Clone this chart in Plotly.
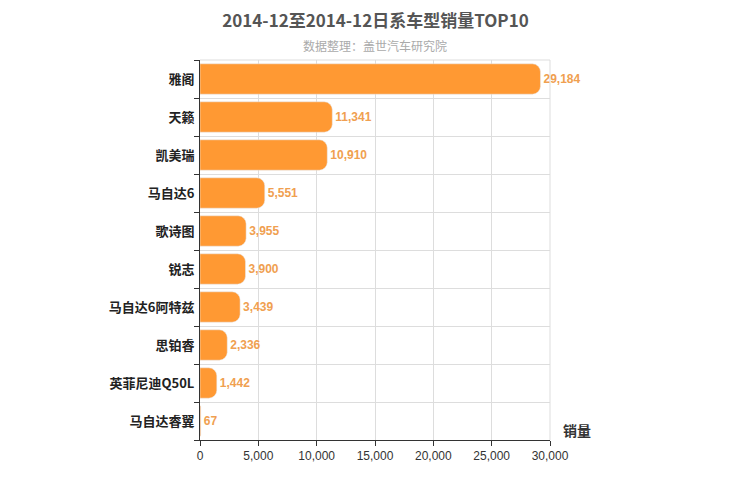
import plotly.graph_objects as go

categories = ["雅阁", "天籁", "凯美瑞", "马自达6", "歌诗图", "锐志", "马自达6阿特兹", "思铂睿", "英菲尼迪Q50L", "马自达睿翼"]
values = [29184, 11341, 10910, 5551, 3955, 3900, 3439, 2336, 1442, 67]
x_ticks = [0, 5000, 10000, 15000, 20000, 25000, 30000]

fig = go.Figure(go.Bar(
    y=categories, x=values, orientation="h",
    marker=dict(color="#FF9933", cornerradius=8),
    width=0.8,
    text=[f"<b>{v:,}</b>" for v in values], textposition="outside",
    textfont=dict(color="#F0A050", size=12, family="Arial"),
    cliponaxis=False,
))
fig.update_layout(
    width=750, height=500,
    margin=dict(l=192, r=208, t=52, b=68),
    plot_bgcolor="white", paper_bgcolor="white",
    font=dict(family="Noto Sans CJK SC, Arial", color="#333"),
    title=dict(text="<b>2014-12至2014-12日系车型销量TOP10</b>", x=0.49, xanchor="center", y=0.985,
               font=dict(size=17, color="#555")),
    annotations=[
        dict(text="数据整理：盖世汽车研究院", xref="paper", yref="paper", x=0.5, y=1.065,
             showarrow=False, font=dict(size=12, color="#aaa")),
        dict(text="<b>销量</b>", xref="paper", yref="paper", x=1.03, y=-0.005, xanchor="left",
             yanchor="bottom", showarrow=False, font=dict(size=14, color="#333")),
    ],
    showlegend=False,
)
fig.update_xaxes(range=[0, 30000], tickvals=x_ticks, tickformat=",", showgrid=True, gridcolor="#ddd",
                 showline=True, linecolor="#333", ticks="outside", ticklen=5, tickcolor="#333",
                 tickfont=dict(size=12, family="Arial"), zeroline=False)
fig.update_yaxes(autorange="reversed", tickson="boundaries", showgrid=True, gridcolor="#ddd",
                 showline=True, linecolor="#333", ticks="outside", ticklen=5, tickcolor="#333",
                 tickfont=dict(size=13, color="#222"), ticklabelstandoff=2,
                 tickvals=categories, ticktext=[f"<b>{c}</b>" for c in categories])
fig.add_shape(type="line", xref="paper", yref="paper", x0=0, x1=1, y0=1, y1=1, line=dict(color="#ddd", width=1))
fig.add_shape(type="line", xref="paper", yref="paper", x0=1, x1=1, y0=0, y1=1, line=dict(color="#ddd", width=1))
fig.write_html("out.html")
